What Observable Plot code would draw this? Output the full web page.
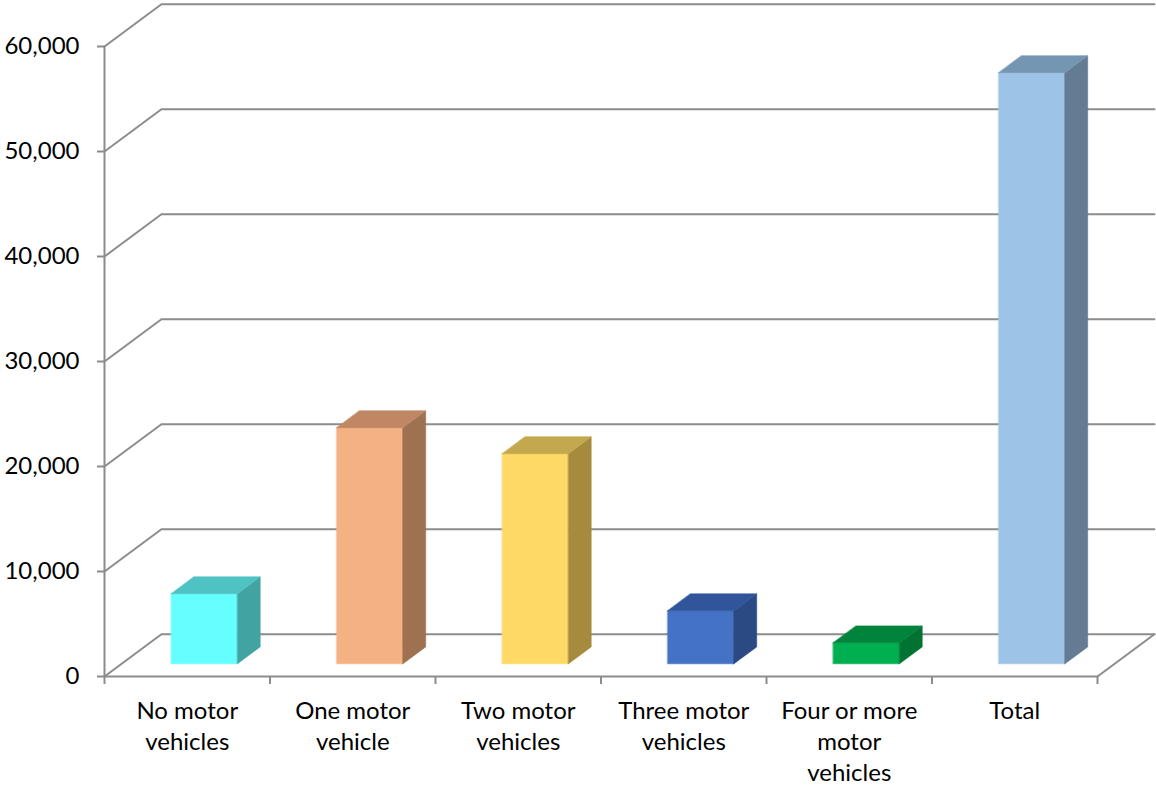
<!DOCTYPE html>
<html>
<head>
<meta charset="utf-8">
<script src="https://cdn.jsdelivr.net/npm/d3@7"></script>
<script src="https://cdn.jsdelivr.net/npm/@observablehq/plot@0.6"></script>
<style>
  html, body { margin: 0; padding: 0; background: white; }
  #chart svg { display: block; }
</style>
</head>
<body>
<div id="chart"></div>
<script>
// ---- data ----
const categories = ["No motor vehicles", "One motor vehicle", "Two motor vehicles", "Three motor vehicles", "Four or more motor vehicles", "Total"];
const tickLabels = ["No motor\nvehicles", "One motor\nvehicle", "Two motor\nvehicles", "Three motor\nvehicles", "Four or more\nmotor\nvehicles", "Total"];
const values = [6670, 22490, 20010, 5050, 2000, 56300];
const frontColors = ["#66FFFF", "#F4B183", "#FFD966", "#4472C4", "#00B050", "#9DC3E6"];
const topColors   = ["#4FC3C3", "#BF8763", "#C4A84E", "#30559A", "#00843C", "#7596B2"];
const sideColors  = ["#42A3A3", "#9E7150", "#A68B3E", "#2B4A84", "#007332", "#637B93"];
const yTicks = [0, 10000, 20000, 30000, 40000, 50000, 60000];

// ---- 3D projection constants (in data units) ----
const n = categories.length;
const depthX = 0.344;   // full floor depth, horizontal component (category units)
const depthY = 4030;    // full floor depth, vertical component (value units)
const t0 = 0.3, t1 = 0.7;   // bar depth span (fraction of floor depth)
const b0 = 0.3, b1 = 0.7;   // bar width span within slot
const P = (x, y, t) => ({x: x + depthX * t, y: y + depthY * t});
const grid = "#8c8c8c";

// faces
const faces = [];
values.forEach((v, i) => {
  const xa = i + b0, xb = i + b1;
  const push = (name, color, pts) => pts.forEach(p => faces.push({...p, face: categories[i] + name, color}));
  push("-front", frontColors[i], [P(xa, 0, t0), P(xb, 0, t0), P(xb, v, t0), P(xa, v, t0)]);
  push("-side", sideColors[i], [P(xb, 0, t0), P(xb, 0, t1), P(xb, v, t1), P(xb, v, t0)]);
  push("-top", topColors[i], [P(xa, v, t0), P(xb, v, t0), P(xb, v, t1), P(xa, v, t1)]);
});

// gridlines: left wall diagonal + back wall horizontal
const gridPts = [];
yTicks.forEach(v => {
  [P(0, v, 0), P(0, v, 1), P(n, v, 1)].forEach(p => gridPts.push({...p, v}));
});
// floor edges & front axis
const floorPts = [
  {...P(0, 0, 0), k: "front"}, {...P(n, 0, 0), k: "front"},
  {...P(n, 0, 0), k: "right"}, {...P(n, 0, 1), k: "right"},
  {...P(0, 0, 0), k: "axis"}, {...P(0, yTicks[yTicks.length - 1], 0), k: "axis"}
];
const boundaries = d3.range(n + 1);
const centers = d3.range(n).map(i => i + 0.5);

const chart = Plot.plot({
  width: 1156,
  height: 787,
  marginLeft: 104,
  marginRight: 59,
  marginTop: 46,
  marginBottom: 111,
  x: {domain: [0, n], axis: null},
  y: {domain: [0, 60000], axis: null},
  color: {type: "identity"},
  style: {fontFamily: "Lato, 'Open Sans', sans-serif", fontSize: "23px", background: "white", color: "black"},
  marks: [
    Plot.line(gridPts, {x: "x", y: "y", z: "v", stroke: grid, strokeWidth: 2}),
    Plot.line(floorPts, {x: "x", y: "y", z: "k", stroke: grid, strokeWidth: 2}),
    Plot.line(faces, {x: "x", y: "y", z: "face", fill: "color", stroke: "color", strokeWidth: 0.6, curve: "linear-closed"}),
    Plot.axisY(yTicks, {label: null, tickSize: 7, tickPadding: 18, stroke: grid, strokeWidth: 2, fill: "black", fontSize: 24, tickFormat: d3.format(",")}),
    Plot.axisX(boundaries, {label: null, tickSize: 8, stroke: grid, strokeWidth: 2, tickFormat: () => ""}),
    Plot.axisX(centers, {label: null, tickSize: 0, tickPadding: 20, fill: "black", fontSize: 24, lineHeight: 1.3, tickFormat: d => tickLabels[Math.floor(d)]})
  ]
});
document.getElementById("chart").append(chart);
</script>
</body>
</html>
